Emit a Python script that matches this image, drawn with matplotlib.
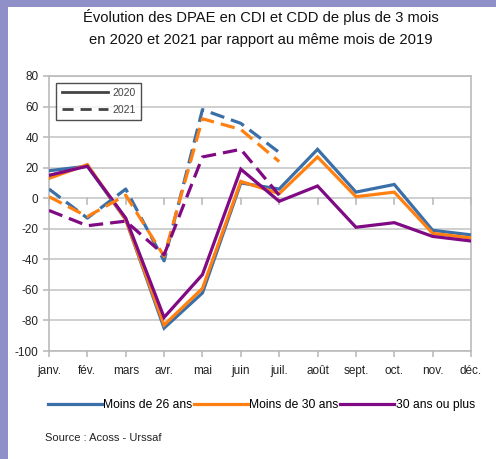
import matplotlib.pyplot as plt
from matplotlib.patches import Rectangle
from matplotlib.lines import Line2D
import numpy as np

plt.rcParams['font.family'] = ['Liberation Sans', 'DejaVu Sans']
plt.rcParams['axes.unicode_minus'] = False

# --- Données ---
mois = ["janv.", "fév.", "mars", "avr.", "mai", "juin", "juil.", "août", "sept.", "oct.", "nov.", "déc."]

moins26_2020 = [18, 21, -14, -85, -62, 10, 6, 32, 4, 9, -21, -24]
moins30_2020 = [13, 22, -14, -83, -59, 11, 3, 27, 1, 4, -23, -26]
plus30_2020 = [15, 21, -13, -78, -50, 19, -2, 8, -19, -16, -25, -28]

moins26_2021 = [6, -13, 6, -41, 58, 49, 30]
moins30_2021 = [1, -12, 2, -38, 52, 45, 24]
plus30_2021 = [-8, -18, -15, -37, 27, 32, 2]

series = ["Moins de 26 ans", "Moins de 30 ans", "30 ans ou plus"]
couleurs = ["#3b6fa8", "#ff8010", "#800a84"]

# --- Figure ---
fig = plt.figure(figsize=(4.96, 4.59), dpi=100, facecolor="#8f90c8")
fig.patches.append(Rectangle((8 / 496, 0), 1, 1 - 7 / 459, transform=fig.transFigure,
                             facecolor="white", edgecolor="none", zorder=-5))

ax = fig.add_axes([49 / 496, 1 - 351 / 459, 422 / 496, 275 / 459])
ax.set_facecolor("white")
x = np.arange(len(mois))

lw = 2.3
data_2020 = [moins26_2020, moins30_2020, plus30_2020]
data_2021 = [moins26_2021, moins30_2021, plus30_2021]
for d, c in zip(data_2020, couleurs):
    ax.plot(x, d, color=c, lw=lw, solid_joinstyle="miter", zorder=3)
for d, c in zip(data_2021, couleurs):
    ax.plot(x[:len(d)], d, color=c, lw=lw, dashes=(4.5, 2.2), zorder=3)

ax.set_xlim(0, 11)
ax.set_ylim(-100, 80)
ax.set_yticks(range(-100, 81, 20))
ax.set_xticks(x)
ax.set_xticklabels(mois)
ax.grid(axis="y", color="#cccccc", lw=1.3)
ax.set_axisbelow(True)
for s in ax.spines.values():
    s.set_color("#bbbbbb")
    s.set_linewidth(1.2)
ax.tick_params(axis="both", colors="#bbbbbb", labelcolor="#222222", labelsize=8.5,
               length=4, width=1.2)
ax.tick_params(axis="x", pad=6)

# petites graduations sur la ligne zéro
for xi in x:
    ax.plot([xi, xi], [-3.5, 0], color="#bbbbbb", lw=1.2, zorder=2, clip_on=False)

# Légende des années
h_annees = [Line2D([], [], color="#444444", lw=2),
            Line2D([], [], color="#444444", lw=2, dashes=(4, 2.5))]
leg1 = ax.legend(h_annees, ["2020", "2021"], loc="upper left", bbox_to_anchor=(0.005, 0.995),
                 frameon=True, fancybox=False, edgecolor="#222222", fontsize=7.5,
                 handlelength=4.5, borderpad=0.5, labelspacing=0.7, handletextpad=0.4)
leg1.get_frame().set_linewidth(1.0)
for t in leg1.get_texts():
    t.set_color("#444444")

# Légende des séries
h_series = [Line2D([], [], color=c, lw=2.3) for c in couleurs]
fig.legend(h_series, series, loc="center", bbox_to_anchor=(0.527, 1 - 405 / 459), ncol=3,
           frameon=False, fontsize=8.7, handlelength=4.5, handletextpad=0.1, columnspacing=0.1)

fig.text(0.525, 1 - 17 / 459, "Évolution des DPAE en CDI et CDD de plus de 3 mois",
         ha="center", va="center", fontsize=10.6, color="#111111")
fig.text(0.525, 1 - 40 / 459, "en 2020 et 2021 par rapport au même mois de 2019",
         ha="center", va="center", fontsize=10.6, color="#111111")
fig.text(45 / 496, 1 - 438 / 459, "Source : Acoss - Urssaf", ha="left", va="center",
         fontsize=8, color="#222222")

fig.savefig("out.png", dpi=100, facecolor=fig.get_facecolor())
